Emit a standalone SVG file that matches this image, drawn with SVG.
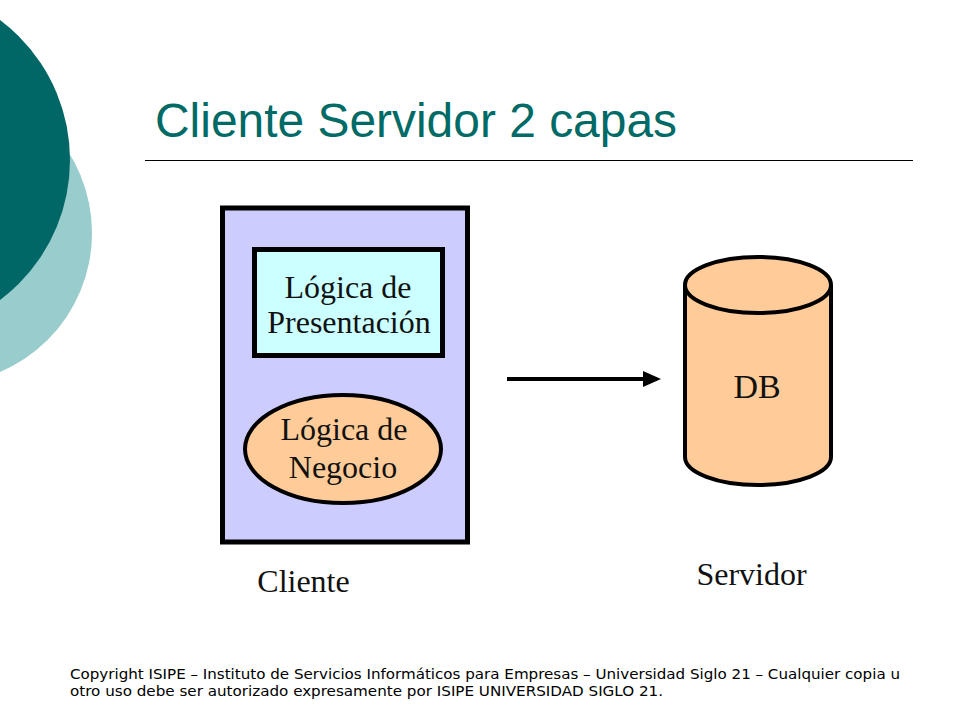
<svg xmlns="http://www.w3.org/2000/svg" width="960" height="720" viewBox="0 0 960 720">
<defs>
<style>
.serif{font-family:"Liberation Serif","Times New Roman",serif;fill:#111;}
.box{stroke:#000;stroke-width:5;}
</style>
<marker id="ah" markerWidth="4.5" markerHeight="4" refX="3.5" refY="2" orient="auto" markerUnits="strokeWidth" viewBox="0 0 4.5 4">
<path d="M0,0 L4.5,2 L0,4 z" fill="#000"/>
</marker>
</defs>
<rect width="960" height="720" fill="#fff"/>
<g id="decor">
<circle cx="-59" cy="233" r="151" fill="#99CCCC"/>
<circle cx="-105" cy="160" r="175" fill="#006666"/>
</g>
<text x="155" y="137" font-family="Liberation Sans, Arial, sans-serif" font-size="48" fill="#006B66" textLength="522" lengthAdjust="spacingAndGlyphs">Cliente Servidor 2 capas</text>
<line x1="145" y1="160.5" x2="913" y2="160.5" stroke="#000" stroke-width="1"/>
<g id="cliente">
<rect x="222.5" y="208" width="245" height="334" fill="#CCCCFF" class="box"/>
<text x="303.5" y="592" class="serif" font-size="32" text-anchor="middle">Cliente</text>
</g>
<g id="presentacion">
<rect x="254.5" y="249.5" width="188" height="106" fill="#CCFFFF" class="box"/>
<text x="348" y="298" class="serif" font-size="32" text-anchor="middle">Lógica de</text>
<text x="349" y="333" class="serif" font-size="32" text-anchor="middle">Presentación</text>
</g>
<g id="negocio">
<ellipse cx="343" cy="449" rx="98" ry="54" fill="#FFCC99" stroke="#000" stroke-width="4"/>
<text x="344" y="440" class="serif" font-size="32" text-anchor="middle">Lógica de</text>
<text x="343" y="478" class="serif" font-size="32" text-anchor="middle">Negocio</text>
</g>
<g id="servidor">
<path d="M685,285 L685,457 A73,28 0 0 0 831,457 L831,285" fill="#FFCC99" stroke="#000" stroke-width="4"/>
<ellipse cx="758" cy="285" rx="73" ry="28" fill="#FFCC99" stroke="#000" stroke-width="4"/>
<text x="757" y="398" class="serif" font-size="34" text-anchor="middle">DB</text>
<text x="751.5" y="585" class="serif" font-size="32" text-anchor="middle">Servidor</text>
</g>
<g id="connectors">
<line x1="507" y1="379" x2="657" y2="379" stroke="#000" stroke-width="4" marker-end="url(#ah)"/>
</g>
<g id="footer" font-family="DejaVu Sans Condensed, DejaVu Sans, sans-serif" font-size="14" fill="#000">
<text x="70" y="679" textLength="830" lengthAdjust="spacingAndGlyphs">Copyright  ISIPE – Instituto de Servicios Informáticos para Empresas – Universidad Siglo 21 – Cualquier copia u</text>
<text x="70" y="696" textLength="593" lengthAdjust="spacingAndGlyphs">otro uso debe ser autorizado expresamente por ISIPE UNIVERSIDAD SIGLO 21.</text>
</g>
</svg>
